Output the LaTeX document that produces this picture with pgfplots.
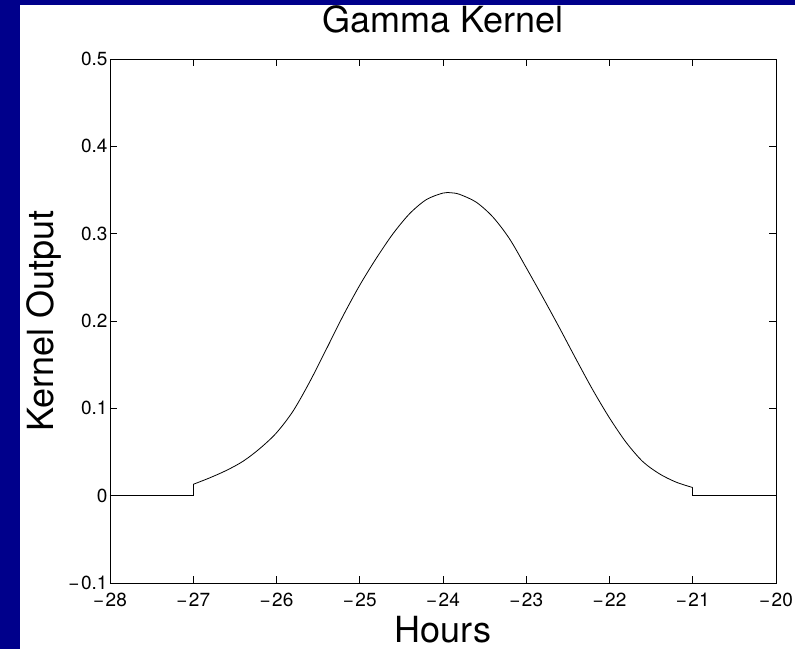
\documentclass[border=0pt]{standalone}
\usepackage{fontspec}
\setmainfont{TeX Gyre Heros}
\usepackage{pgfplots}
\pgfplotsset{compat=1.18}
\usepackage{pgfplotstable}
\definecolor{navybg}{RGB}{0,0,139}
\newcommand{\mn}{−\kern1.5pt}

\pgfplotstableread{
x y
-27 0.013
-26.8 0.0205
-26.6 0.029
-26.4 0.0395
-26.2 0.054
-26.0 0.072
-25.8 0.097
-25.6 0.1305
-25.4 0.168
-25.2 0.206
-25.0 0.241
-24.8 0.272
-24.6 0.300
-24.4 0.323
-24.2 0.339
-24.0 0.3465
-23.9 0.3468
-23.8 0.3450
-23.6 0.336
-23.4 0.319
-23.2 0.294
-23.0 0.261
-22.8 0.227
-22.6 0.192
-22.4 0.156
-22.2 0.121
-22.0 0.089
-21.8 0.061
-21.6 0.039
-21.4 0.025
-21.2 0.0155
-21.0 0.0093
}\kernel

\pgfplotstableread{
x y
-28 0
-27 0
-27 0.013
}\leftpart

\pgfplotstableread{
x y
-21 0.0093
-21 0
-20 0
}\rightpart

\begin{document}
\begin{tikzpicture}[x=1pt,y=1pt]
\useasboundingbox (0,0) rectangle (795,649);
\fill[navybg] (0,0) rectangle (795,649);
\fill[white] (20,0) rectangle (795,644);
\begin{axis}[
  at={(110pt,66pt)}, anchor=south west,
  scale only axis, width=666pt, height=524pt,
  xmin=-28, xmax=-20, ymin=-0.1, ymax=0.5,
  xtick={-28,-27,-26,-25,-24,-23,-22,-21,-20},
  xticklabels={\mn28,\mn27,\mn26,\mn25,\mn24,\mn23,\mn22,\mn21,\mn20},
  ytick={-0.1,0,0.1,0.2,0.3,0.4,0.5},
  yticklabels={\mn0.1,0,0.1,0.2,0.3,0.4,0.5},
  tick align=inside, major tick length=7pt,
  tick style={black, line width=0.7pt},
  axis line style={black, line width=0.8pt},
  tick label style={font=\fontsize{19}{19}\selectfont},
  xticklabel style={font=\fontsize{19}{19}\selectfont, yshift=-6pt},
  yticklabel style={font=\fontsize{19}{19}\selectfont, xshift=1pt},
  title={Gamma Kernel},
  title style={at={(axis description cs:0.5,1)}, anchor=base, yshift=21pt, font=\fontsize{36}{36}\selectfont},
  xlabel={Hours},
  xlabel style={at={(axis description cs:0.5,0)}, anchor=base, yshift=-59pt, inner sep=0pt, font=\fontsize{36}{36}\selectfont},
  every axis y label/.style={at={(axis description cs:0,0.5)}, xshift=-57pt, rotate=90, anchor=base, font=\fontsize{36}{36}\selectfont},
  ylabel={Kernel Output},
]
\addplot[black, line width=0.8pt] table[x=x,y=y] {\leftpart};
\addplot[black, line width=0.8pt, smooth, tension=0.5] table[x=x,y=y] {\kernel};
\addplot[black, line width=0.8pt] table[x=x,y=y] {\rightpart};
\end{axis}
\end{tikzpicture}
\end{document}
